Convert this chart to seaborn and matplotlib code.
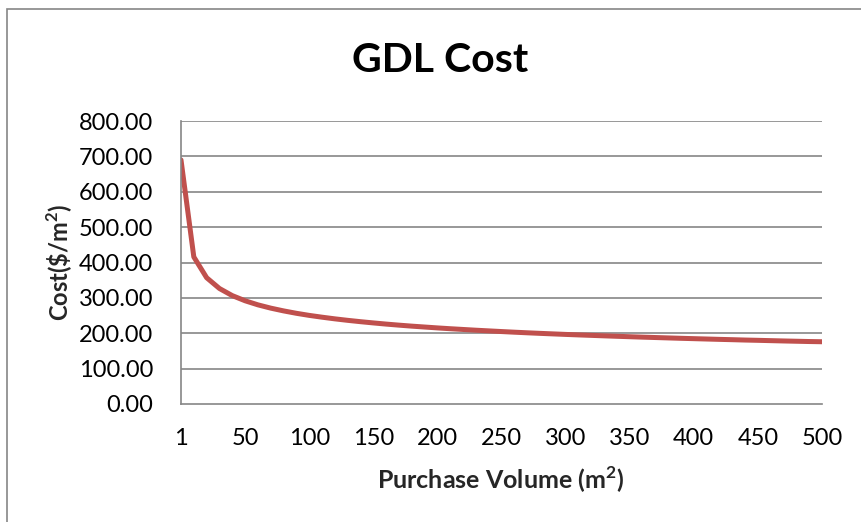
"""
GDL cost versus purchase volume, redrawn as an Excel-style line chart.
"""

import matplotlib.pyplot as plt
import matplotlib.patches as mpatches
import numpy as np
import pandas as pd
import seaborn as sns

# purchase volume categories (m^2) and cost ($/m^2)
volumes = [1] + list(range(10, 501, 10))
cost = [
    690.0, 415.8, 357.0, 326.5, 306.4, 291.8, 280.3, 271.0, 263.2, 256.4,
    250.5, 245.4, 240.7, 236.5, 232.7, 229.2, 225.9, 222.9, 220.1, 217.6,
    215.1, 212.8, 210.7, 208.6, 206.7, 204.8, 203.0, 201.3, 199.7, 198.2,
    196.7, 195.3, 194.0, 192.7, 191.4, 190.2, 189.0, 187.9, 186.8, 185.7,
    184.7, 183.7, 182.7, 181.8, 180.8, 180.0, 179.1, 178.2, 177.4, 176.6,
    176.0,
]
y_ticks = [0, 100, 200, 300, 400, 500, 600, 700, 800]

LINE_COLOR = "#C0504D"
GRID_COLOR = "#868686"
FONT = ["Lato", "DejaVu Sans"]

sns.set_theme(style="white")
plt.rcParams["font.family"] = FONT
plt.rcParams["text.color"] = "black"
plt.rcParams["xtick.labelcolor"] = "black"
plt.rcParams["ytick.labelcolor"] = "black"
plt.rcParams["mathtext.fontset"] = "custom"
plt.rcParams["mathtext.rm"] = "Lato"
plt.rcParams["mathtext.bf"] = "Lato:bold"


def main() -> None:
    df = pd.DataFrame({"volume": volumes, "cost": cost})
    df["pos"] = np.arange(len(df))

    fig = plt.figure(figsize=(8.62, 5.22), dpi=100)
    ax = fig.add_axes([181 / 862, 1 - 404 / 522, 641 / 862, 283 / 522])

    sns.lineplot(data=df, x="pos", y="cost", color=LINE_COLOR, linewidth=3.6, ax=ax)

    ax.set_xlim(0, len(df) - 1)
    ax.set_ylim(0, 800)
    ax.set_yticks(y_ticks)
    ax.set_yticklabels([f"{v:.2f}" for v in y_ticks], fontsize=17)
    ax.set_xticks(df["pos"])
    ax.set_xticklabels(
        [str(v) if i % 5 == 0 else "" for i, v in enumerate(volumes)], fontsize=17
    )
    ax.tick_params(axis="both", length=7, width=1.2, color=GRID_COLOR,
                   direction="out")
    ax.tick_params(axis="x", pad=10)
    ax.tick_params(axis="y", pad=13)

    for v in y_ticks[1:]:
        ax.axhline(v, color=GRID_COLOR, linewidth=1.2, zorder=0)
    for side in ["top", "right"]:
        ax.spines[side].set_visible(False)
    for side in ["left", "bottom"]:
        ax.spines[side].set_color(GRID_COLOR)
        ax.spines[side].set_linewidth(1.2)

    ax.set_xlabel("Purchase Volume (m$^{\\mathbf{2}}$)", fontsize=18,
                  fontweight="bold")
    ax.xaxis.set_label_coords(0.498, -0.213)
    ax.set_ylabel("Cost(\\$/m$^{\\mathbf{2}}$)", fontsize=17, fontweight="bold",
                  va="center")
    ax.yaxis.set_label_coords(-0.189, 0.5)
    fig.text(440 / 862, 1 - 60 / 522, "GDL Cost", fontsize=29.5, fontweight="bold",
             ha="center", va="center")

    # chart area border
    fig.patches.append(mpatches.Rectangle(
        (7 / 862, -0.05), 1.1, 1 - 9 / 522 + 0.05, transform=fig.transFigure,
        fill=False, edgecolor=GRID_COLOR, linewidth=1.2))

    fig.savefig("out.png", dpi=100)
    plt.close(fig)


if __name__ == "__main__":
    main()
